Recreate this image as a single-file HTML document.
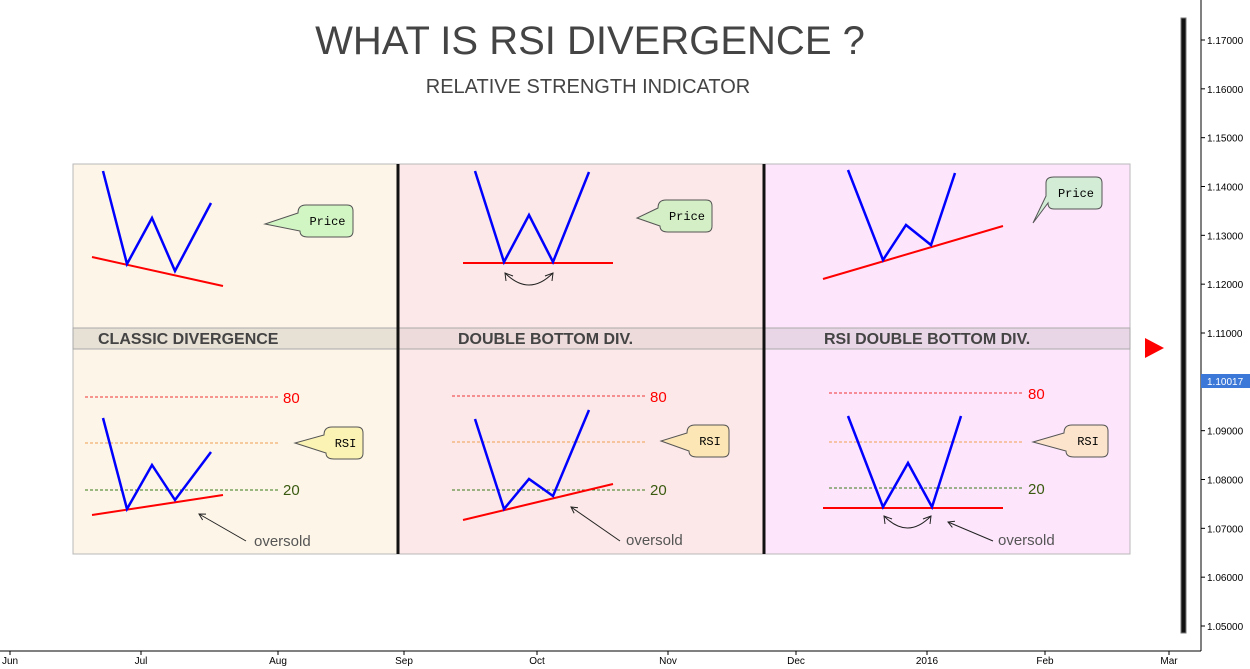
<!DOCTYPE html>
<html><head><meta charset="utf-8"><style>
body{margin:0;background:#fff;}
svg{display:block;font-family:"Liberation Sans",sans-serif;}
</style></head><body>
<svg id="chart" width="1250" height="669" viewBox="0 0 1250 669" xmlns="http://www.w3.org/2000/svg">
<g>
<rect x="73" y="164" width="325" height="390" fill="#fdf5e8" stroke="#b8b8b8"/>
<rect x="398" y="164" width="366" height="390" fill="#fce8e8" stroke="#b8b8b8"/>
<rect x="764" y="164" width="366" height="390" fill="#fde6fc" stroke="#b8b8b8"/>
<rect x="73" y="328" width="325" height="21" fill="#e7e0d5" stroke="#aaa"/>
<rect x="398" y="328" width="366" height="21" fill="#eddada" stroke="#aaa"/>
<rect x="764" y="328" width="366" height="21" fill="#e8d6e6" stroke="#aaa"/>
<line x1="398" y1="164" x2="398" y2="554" stroke="#111" stroke-width="3"/>
<line x1="764" y1="164" x2="764" y2="554" stroke="#111" stroke-width="3"/>
<text x="98" y="344" font-size="16" font-weight="bold" fill="#444">CLASSIC DIVERGENCE</text>
<text x="458" y="344" font-size="16" font-weight="bold" fill="#444">DOUBLE BOTTOM DIV.</text>
<text x="824" y="344" font-size="16" font-weight="bold" fill="#444">RSI DOUBLE BOTTOM DIV.</text>
</g>
<text x="590" y="54" font-size="40" text-anchor="middle" fill="#444">WHAT IS RSI DIVERGENCE ?</text>
<text x="588" y="93" font-size="20" text-anchor="middle" fill="#444">RELATIVE STRENGTH INDICATOR</text>
<g id="draw"></g>
<g id="axes"></g>
</svg>
<script>
const monthLabels=["Jun","Jul","Aug","Sep","Oct","Nov","Dec","2016","Feb","Mar"];
const monthPos=[10,141,278,404,537,668,796,927,1045,1169];
const priceTicks=[1.17,1.16,1.15,1.14,1.13,1.12,1.11,1.10,1.09,1.08,1.07,1.06,1.05];
const currentPrice=1.10017;
const NS="http://www.w3.org/2000/svg";
function yScale(v){return 40+(1.17-v)/0.12*586;}
function mk(tag,attrs,parent,text){const e=document.createElementNS(NS,tag);for(const k in attrs)e.setAttribute(k,attrs[k]);if(text!==undefined)e.textContent=text;parent.appendChild(e);return e;}
const ax=document.getElementById('axes');
const d=document.getElementById('draw');
let e;
e=mk('line',{x1:1201,y1:0,x2:1201,y2:651,stroke:'#000'},ax);


e=mk('line',{x1:0,y1:651,x2:1201,y2:651,stroke:'#000'},ax);


priceTicks.forEach(v=>{const y=yScale(v);
 mk('line',{x1:1201,y1:y,x2:1205,y2:y,stroke:'#000'},ax);
 e=mk('text',{x:1207,y:y+4,'font-size':10,fill:'#000'},ax,v.toFixed(5));
 
 
});
monthLabels.forEach((m,i)=>{const x=monthPos[i];
 mk('line',{x1:x,y1:651,x2:x,y2:655,stroke:'#000'},ax);
 e=mk('text',{x:x,y:664,'font-size':10,'text-anchor':'middle',fill:'#000'},ax,m);
 
 
});
const cy=yScale(currentPrice);
e=mk('rect',{x:1201,y:cy-7,width:49,height:14,fill:'#3c78d8'},ax);


mk('text',{x:1207,y:cy+4,'font-size':10,fill:'#fff'},ax,currentPrice.toFixed(5));
e=mk('rect',{x:1181,y:18,width:5,height:615,fill:'#111',stroke:'#777'},ax);


e=mk('polygon',{points:'1145,338 1164,348 1145,358',fill:'#f00'},ax);



function poly(pts,col,w,name){e=mk('polyline',{points:pts.map(p=>p.join(',')).join(' '),fill:'none',stroke:col,'stroke-width':w},d);
 
 }
function dash(x1,x2,y,col,name){e=mk('line',{x1:x1,y1:y,x2:x2,y2:y,stroke:col,'stroke-dasharray':'3,2'},d);
 
 }
function label(x,y,t,col,size,name){e=mk('text',{x:x,y:y,'font-size':size,fill:col},d,t);
 
 }
function callout(x,y,w,h,tx,ty,fill,t,name){
 e=mk('path',{d:`M${x+8},${y} H${x+w-6} Q${x+w},${y} ${x+w},${y+6} V${y+h-6} Q${x+w},${y+h} ${x+w-6},${y+h} H${x+10} Q${x+2},${y+h} ${x+2},${y+h-6} L${tx},${ty} L${x},${y+h*0.25} Q${x},${y} ${x+8},${y} Z`,fill:fill,stroke:'#555'},d);
 
 
 mk('text',{x:x+w/2+2,y:y+h/2+4,'font-size':12,'text-anchor':'middle','font-family':'Liberation Mono, monospace',fill:'#000'},d,t);}
function arrow(x1,y1,x2,y2,name){e=mk('line',{x1:x1,y1:y1,x2:x2,y2:y2,stroke:'#222'},d);
 
 
 const a=Math.atan2(y2-y1,x2-x1);const L=7;
 mk('polyline',{points:`${x2-L*Math.cos(a-0.5)},${y2-L*Math.sin(a-0.5)} ${x2},${y2} ${x2-L*Math.cos(a+0.5)},${y2-L*Math.sin(a+0.5)}`,fill:'none',stroke:'#222'},d);}
function curve(x1,x2,y,name){e=mk('path',{d:`M${x1},${y} Q${(x1+x2)/2},${y+24} ${x2},${y}`,fill:'none',stroke:'#222'},d);
 
 
 mk('polyline',{points:`${x1+1},${y+8} ${x1},${y} ${x1+8},${y+3}`,fill:'none',stroke:'#222'},d);
 mk('polyline',{points:`${x2-1},${y+8} ${x2},${y} ${x2-8},${y+3}`,fill:'none',stroke:'#222'},d);}

// Panel 1
poly([[92,257],[223,286]],'#f00',2,'price-trend-1');
poly([[103,171],[127,264],[152,218],[175,271],[211,203]],'#00f',2.5,'price-w-1');
callout(298,205,55,32,265,224,'#d2f5c4','Price','price-callout-1');
dash(85,278,397,'#e33','rsi80-line-1');dash(85,278,443,'#f0a050','rsi50-line-1');dash(85,278,490,'#3a7a1a','rsi20-line-1');
label(283,403,'80','#f00',15,'rsi80-label-1');label(283,495,'20','#3a5a10',15,'rsi20-label-1');
poly([[92,515],[223,495]],'#f00',2,'rsi-trend-1');
poly([[103,418],[127,509],[152,465],[175,500],[211,452]],'#00f',2.5,'rsi-w-1');
callout(324,427,39,32,295,443,'#fbf3b4','RSI','rsi-callout-1');
arrow(246,541,199,514,'oversold-arrow-1');label(254,546,'oversold','#555',15,'oversold-label-1');
// Panel 2
poly([[463,263],[613,263]],'#f00',2,'price-trend-2');
poly([[475,171],[504,262],[529,215],[553,262],[589,172]],'#00f',2.5,'price-w-2');
curve(505,553,273,'price-curve-arrow-2');
callout(658,200,54,32,637,218,'#d4efc6','Price','price-callout-2');
dash(452,645,396,'#e33','rsi80-line-2');dash(452,645,442,'#f0a050','rsi50-line-2');dash(452,645,490,'#3a7a1a','rsi20-line-2');
label(650,402,'80','#f00',15,'rsi80-label-2');label(650,495,'20','#3a5a10',15,'rsi20-label-2');
poly([[463,520],[613,484]],'#f00',2,'rsi-trend-2');
poly([[475,419],[504,509],[529,479],[553,496],[589,410]],'#00f',2.5,'rsi-w-2');
callout(687,425,42,32,661,441,'#fce6b6','RSI','rsi-callout-2');
arrow(620,541,571,507,'oversold-arrow-2');label(626,545,'oversold','#555',15,'oversold-label-2');
// Panel 3
poly([[823,279],[1003,226]],'#f00',2,'price-trend-3');
poly([[848,170],[883,260],[906,225],[931,245],[955,173]],'#00f',2.5,'price-w-3');
e=mk('path',{d:'M1054,177 H1096 Q1102,177 1102,183 V203 Q1102,209 1096,209 H1054 Q1048,209 1048,203 L1033,223 L1046,196 V183 Q1046,177 1054,177 Z',fill:'#d2ecd6',stroke:'#555'},d);


mk('text',{x:1076,y:197,'font-size':12,'text-anchor':'middle','font-family':'Liberation Mono, monospace'},d,'Price');
dash(829,1022,393,'#e33','rsi80-line-3');dash(829,1022,442,'#f0a050','rsi50-line-3');dash(829,1022,488,'#3a7a1a','rsi20-line-3');
label(1028,399,'80','#f00',15,'rsi80-label-3');label(1028,494,'20','#3a5a10',15,'rsi20-label-3');
poly([[823,508],[1003,508]],'#f00',2,'rsi-trend-3');
poly([[848,416],[883,507],[908,463],[932,507],[961,416]],'#00f',2.5,'rsi-w-3');
curve(884,931,516,'rsi-curve-arrow-3');
callout(1064,425,44,32,1033,442,'#fce4cc','RSI','rsi-callout-3');
arrow(993,541,948,522,'oversold-arrow-3');label(998,545,'oversold','#555',15,'oversold-label-3');
</script>
</body></html>
